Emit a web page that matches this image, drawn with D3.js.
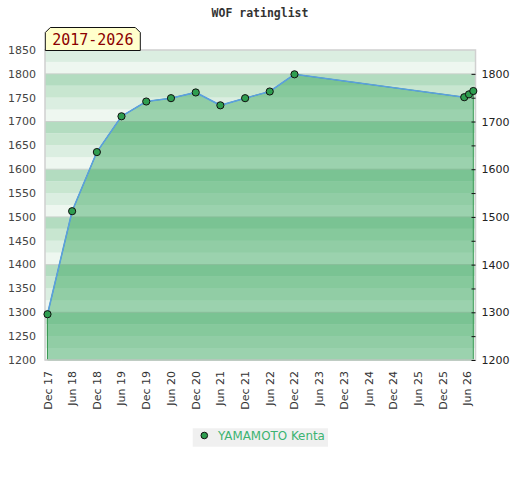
<!DOCTYPE html>
<html lang="en">
<head>
<meta charset="UTF-8">
<title>WOF ratinglist</title>
<script src="https://d3js.org/d3.v7.min.js"></script>
<style>
  body { margin: 0; padding: 0; background: #fff; }
  svg { display: block; }
</style>
</head>
<body>
<svg id="chart"></svg>
<script>
// Data
const dates = [
  "2017-12-01", "2018-06-01", "2018-12-01", "2019-06-01", "2019-12-01",
  "2020-06-01", "2020-12-01", "2021-06-01", "2021-12-01", "2022-06-01",
  "2022-12-01", "2026-05-09", "2026-06-13", "2026-07-15"
];
const ratings = [1296, 1512, 1636, 1711, 1742, 1749, 1761, 1734, 1749, 1763, 1799, 1751, 1757, 1764];
const leftTicks = [1200, 1250, 1300, 1350, 1400, 1450, 1500, 1550, 1600, 1650, 1700, 1750, 1800, 1850];
const rightTicks = [1200, 1300, 1400, 1500, 1600, 1700, 1800];
const playerName = "YAMAMOTO Kenta";
const periodLabel = "2017-2026";
const chartTitle = "WOF ratinglist";

const width = 520, height = 480;
const plot = { left: 45, right: 475.5, top: 50, bottom: 360 };

const parse = d3.timeParse("%Y-%m-%d");
const points = dates.map((d, i) => ({ date: parse(d), value: ratings[i] }));

const svg = d3.select("#chart").attr("width", width).attr("height", height);

const x = d3.scaleTime()
  .domain(d3.extent(points, d => d.date))
  .range([47.5, 473.3]);
const y = d3.scaleLinear()
  .domain([1200, 1850])
  .range([plot.bottom, plot.top]);

// background stripes, 4 per 100 points, darkest at the top of each hundred
const stripeColors = ["#eef7f0", "#dbeee1", "#c8e6d0", "#b3dcc0"];
const stripes = d3.range(1200, 1850, 25);
svg.append("g")
  .selectAll("rect")
  .data(stripes)
  .join("rect")
  .attr("x", plot.left)
  .attr("width", plot.right - plot.left)
  .attr("y", d => y(d + 25))
  .attr("height", d => y(d) - y(d + 25))
  .attr("fill", d => stripeColors[Math.floor((d % 100) / 25)]);

// faint grid lines at each hundred
svg.append("g")
  .selectAll("line")
  .data(rightTicks)
  .join("line")
  .attr("x1", plot.left).attr("x2", plot.right)
  .attr("y1", d => y(d)).attr("y2", d => y(d))
  .attr("stroke", "#c8d0ca")
  .attr("stroke-width", 1);

// area under the rating line
const area = d3.area()
  .x(d => x(d.date))
  .y0(y(1200))
  .y1(d => y(d.value));
svg.append("path")
  .datum(points)
  .attr("d", area)
  .attr("fill", "rgb(49,165,88)")
  .attr("fill-opacity", 0.44)
  .attr("stroke", "#3a9a55")
  .attr("stroke-width", 1);

// plot frame
svg.append("rect")
  .attr("x", plot.left)
  .attr("y", plot.top)
  .attr("width", plot.right - plot.left)
  .attr("height", plot.bottom - plot.top)
  .attr("fill", "none")
  .attr("stroke", "#d0d0d0")
  .attr("stroke-width", 1.5);

// rating line
const line = d3.line()
  .x(d => x(d.date))
  .y(d => y(d.value));
svg.append("path")
  .datum(points)
  .attr("d", line)
  .attr("fill", "none")
  .attr("stroke", "#5b9fe0")
  .attr("stroke-width", 1.6);

// markers
svg.append("g")
  .selectAll("circle")
  .data(points)
  .join("circle")
  .attr("cx", d => x(d.date))
  .attr("cy", d => y(d.value))
  .attr("r", 3.6)
  .attr("fill", "#2f9e50")
  .attr("stroke", "#111")
  .attr("stroke-width", 1);

// left axis labels (no ticks)
svg.append("g")
  .selectAll("text")
  .data(leftTicks)
  .join("text")
  .attr("x", 36)
  .attr("y", d => y(d))
  .attr("dy", "0.35em")
  .attr("text-anchor", "end")
  .attr("font-family", "DejaVu Sans, sans-serif")
  .attr("font-size", 11)
  .attr("fill", "#444")
  .text(d => d);

// right axis: ticks every 50, labels every 100
const yRight = d3.axisRight(y)
  .tickValues(leftTicks.filter(d => d < 1850))
  .tickSize(-4)
  .tickPadding(10)
  .tickFormat(d => rightTicks.includes(d) ? d : "");
const gRight = svg.append("g")
  .attr("transform", `translate(${plot.right},0)`)
  .call(yRight);
gRight.select(".domain").remove();
gRight.selectAll(".tick line").attr("stroke", "#111");
gRight.selectAll(".tick text")
  .attr("font-family", "DejaVu Sans, sans-serif")
  .attr("font-size", 11)
  .attr("fill", "#222")
  .attr("x", 6);

// x axis labels, rotated
const xTicks = d3.timeMonth.range(parse("2017-12-01"), parse("2026-06-02"), 6);
const fmt = d3.timeFormat("%b %y");
svg.append("g")
  .selectAll("text")
  .data(xTicks)
  .join("text")
  .attr("transform", d => `translate(${x(d) + 4},371) rotate(-90)`)
  .attr("text-anchor", "end")
  .attr("font-family", "DejaVu Sans, sans-serif")
  .attr("font-size", 11)
  .attr("fill", "#333")
  .text(d => fmt(d));

// title
svg.append("text")
  .attr("x", 260)
  .attr("y", 17)
  .attr("text-anchor", "middle")
  .attr("font-family", "DejaVu Sans Mono, monospace")
  .attr("font-weight", "bold")
  .attr("font-size", 11.5)
  .attr("fill", "#333")
  .text(chartTitle);

// period tag
const tx0 = 45.3, tx1 = 140.3, ty0 = 27.5, ty1 = 50.5, c = 5;
svg.append("path")
  .attr("d", `M${tx0},${ty1} L${tx0},${ty0 + c} L${tx0 + c},${ty0} L${tx1 - c},${ty0} L${tx1},${ty0 + c} L${tx1},${ty1} Z`)
  .attr("fill", "#ffffcc")
  .attr("stroke", "#111")
  .attr("stroke-width", 1);
svg.append("text")
  .attr("x", (tx0 + tx1) / 2)
  .attr("y", 45)
  .attr("text-anchor", "middle")
  .attr("font-family", "DejaVu Sans Mono, monospace")
  .attr("font-size", 15)
  .attr("fill", "#8b0000")
  .text(periodLabel);

// legend
const legend = svg.append("g");
legend.append("rect")
  .attr("x", 192.7).attr("y", 428.3)
  .attr("width", 135.3).attr("height", 18.4)
  .attr("fill", "#f0f0f0");
legend.append("circle")
  .attr("cx", 204.3).attr("cy", 435.5)
  .attr("r", 3.3)
  .attr("fill", "#2f9e50")
  .attr("stroke", "#111")
  .attr("stroke-width", 1);
legend.append("text")
  .attr("x", 218)
  .attr("y", 440)
  .attr("font-family", "DejaVu Sans, sans-serif")
  .attr("font-size", 11.9)
  .attr("fill", "#3cb371")
  .text(playerName);
</script>
</body>
</html>
